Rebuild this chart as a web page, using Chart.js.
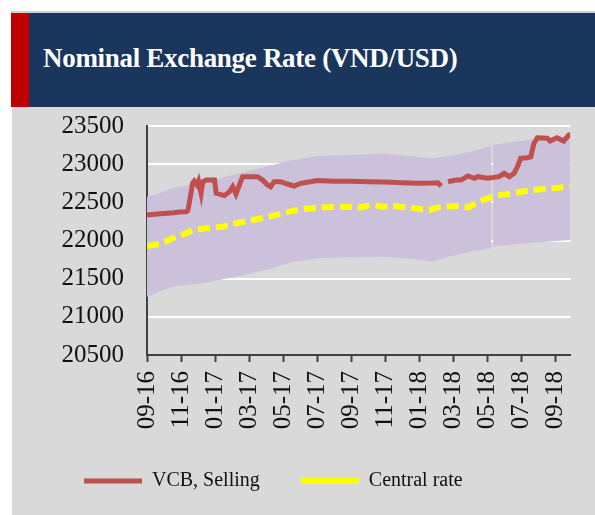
<!DOCTYPE html>
<html>
<head>
<meta charset="utf-8">
<script src="https://cdn.jsdelivr.net/npm/chart.js@4"></script>
<style>
  body { margin: 0; background: #fff; width: 595px; height: 515px; overflow: hidden; position: relative; }
  #header { position: absolute; left: 11px; top: 11px; width: 584px; height: 96px; background: #1a365d; border-top: 2px solid #d0d0d0; box-sizing: border-box; }
  #redbar { position: absolute; left: 0; top: 0; width: 18px; height: 100%; background: #c00000; }
  #title { position: absolute; left: 32px; top: 30px; color: #fff; font: bold 27px 'Liberation Serif', serif; letter-spacing: -0.3px; white-space: nowrap; }
  #box { position: absolute; left: 12px; top: 107px; width: 583px; height: 408px; background: #d9d9d9; }
</style>
</head>
<body>
<div id="header"><div id="redbar"></div><div id="title">Nominal Exchange Rate (VND/USD)</div></div>
<div id="box"><canvas id="rateChart" width="583" height="408"></canvas></div>
<script>
// x values are months since Sep 2016
const tickMonths = [0, 2, 4, 6, 8, 10, 12, 14, 16, 18, 20, 22, 24];
const tickLabels = ['09-16', '11-16', '01-17', '03-17', '05-17', '07-17', '09-17', '11-17', '01-18', '03-18', '05-18', '07-18', '09-18'];

const vcbMonths = [0, 0.6, 1.6, 1.9, 2.3, 2.4, 2.5, 2.68, 2.78, 2.95, 3.03, 3.18, 3.28, 3.48, 3.97, 4.07, 4.55, 4.85, 5.04, 5.23, 5.43, 5.62, 6.5, 6.8, 7.08, 7.27, 7.47, 7.86, 8.25, 8.64, 9.03, 9.6, 10.0, 11, 12, 13, 14, 15, 16, 16.8, 17.1, 17.3, 17.4, 17.7, 18.1, 18.5, 18.86, 19.25, 19.45, 20.03, 20.7, 21.0, 21.3, 21.58, 21.78, 21.97, 22.36, 22.56, 22.75, 22.95, 23.53, 23.7, 24.1, 24.5, 24.8, 24.88];
const vcbRates = [22334, 22347, 22364, 22372, 22377, 22390, 22508, 22749, 22780, 22727, 22775, 22618, 22770, 22792, 22792, 22618, 22588, 22640, 22705, 22609, 22727, 22836, 22836, 22792, 22727, 22705, 22770, 22770, 22740, 22714, 22749, 22770, 22785, 22775, 22775, 22770, 22765, 22758, 22750, 22752, 22757, 22714, null, 22770, 22790, 22795, 22845, 22815, 22836, 22815, 22836, 22880, 22836, 22880, 22967, 23077, 23085, 23095, 23272, 23346, 23340, 23303, 23346, 23303, 23382, 23385];

const centralMonths = [0, 0.76, 1.5, 2.3, 2.7, 3.5, 4.45, 5.2, 6.2, 7.2, 8.1, 9.03, 10.4, 11.56, 12.5, 13.2, 13.9, 14.5, 15.3, 16.2, 16.6, 17.1, 18.1, 18.9, 19.45, 19.9, 20.4, 21.2, 21.97, 22.75, 23.7, 24.3, 24.88];
const centralRates = [21928, 21954, 22029, 22094, 22137, 22160, 22181, 22225, 22268, 22312, 22365, 22408, 22434, 22443, 22434, 22465, 22443, 22452, 22434, 22408, 22400, 22434, 22452, 22434, 22505, 22540, 22583, 22609, 22639, 22662, 22684, 22695, 22714];

const bandMonths = [0, 0.7, 1.5, 3.5, 5.4, 7.4, 8.35, 10, 11.95, 13.9, 15.8, 16.8, 17.7, 19.05, 20.25, 20.3, 20.35, 22.36, 24.88];
const bandUpper = [22574, 22620, 22684, 22770, 22880, 22989, 23045, 23107, 23120, 23142, 23098, 23077, 23107, 23164, 23240, null, 23255, 23317, 23369];
const bandLower = [21264, 21330, 21395, 21447, 21535, 21636, 21710, 21767, 21780, 21788, 21754, 21722, 21788, 21853, 21900, null, 21920, 21963, 22006];

const toPoints = function(xs, ys) {
    let pts = [];
    for (let i = 0; i < xs.length; i++) {
        pts.push({ x: xs[i], y: ys[i] });
    }
    return pts;
};

const serif = 'Liberation Serif';

new Chart(document.getElementById('rateChart'), {
    type: 'line',
    data: {
        datasets: [{
            label: 'VCB, Selling',
            data: toPoints(vcbMonths, vcbRates),
            borderColor: '#c0504d',
            backgroundColor: '#c0504d',
            borderWidth: 5,
            pointRadius: 0,
            tension: 0
        }, {
            label: 'Central rate',
            data: toPoints(centralMonths, centralRates),
            borderColor: '#ffff00',
            backgroundColor: '#ffff00',
            borderWidth: 6,
            borderDash: [12, 6],
            pointRadius: 0,
            tension: 0
        }, {
            label: 'band upper',
            data: toPoints(bandMonths, bandUpper),
            borderWidth: 0,
            borderColor: 'rgba(0,0,0,0)',
            backgroundColor: '#ccc1da',
            pointRadius: 0,
            fill: '+1'
        }, {
            label: 'band lower',
            data: toPoints(bandMonths, bandLower),
            borderWidth: 0,
            borderColor: 'rgba(0,0,0,0)',
            pointRadius: 0,
            fill: false
        }]
    },
    options: {
        responsive: false,
        animation: false,
        events: [],
        layout: { padding: { top: 19, right: 22, bottom: 14, left: 31 } },
        plugins: {
            tooltip: { enabled: false },
            legend: {
                position: 'bottom',
                align: 'start',
                labels: {
                    filter: function(item) { return item.datasetIndex < 2; },
                    usePointStyle: true,
                    pointStyle: 'line',
                    pointStyleWidth: 58,
                    padding: 41,
                    color: '#111',
                    font: { family: serif, size: 20 }
                }
            }
        },
        scales: {
            x: {
                type: 'linear',
                min: 0,
                max: 24.9,
                afterBuildTicks: function(scale) {
                    scale.ticks = tickMonths.map(function(v) { return { value: v }; });
                },
                afterFit: function(scale) { scale.height = 75; },
                ticks: {
                    autoSkip: false,
                    minRotation: 90,
                    maxRotation: 90,
                    padding: 9,
                    color: '#111',
                    font: { family: serif, size: 25 },
                    callback: function(v) {
                        const i = tickMonths.indexOf(v);
                        return i >= 0 ? tickLabels[i] : '';
                    }
                },
                grid: { drawOnChartArea: false, tickLength: 7, tickWidth: 2, tickColor: '#404040' },
                border: { color: '#404040', width: 2 }
            },
            y: {
                min: 20500,
                max: 23500,
                afterFit: function(scale) {
                    scale.width = 104;
                    scale.paddingTop = 0;
                    scale.paddingBottom = 0;
                },
                ticks: {
                    stepSize: 500,
                    padding: 23,
                    color: '#111',
                    font: { family: serif, size: 25 },
                    callback: function(v) { return String(v); }
                },
                grid: { color: '#ffffff', lineWidth: 2, drawTicks: false },
                border: { color: '#404040', width: 2 }
            }
        }
    }
});
</script>
</body>
</html>
